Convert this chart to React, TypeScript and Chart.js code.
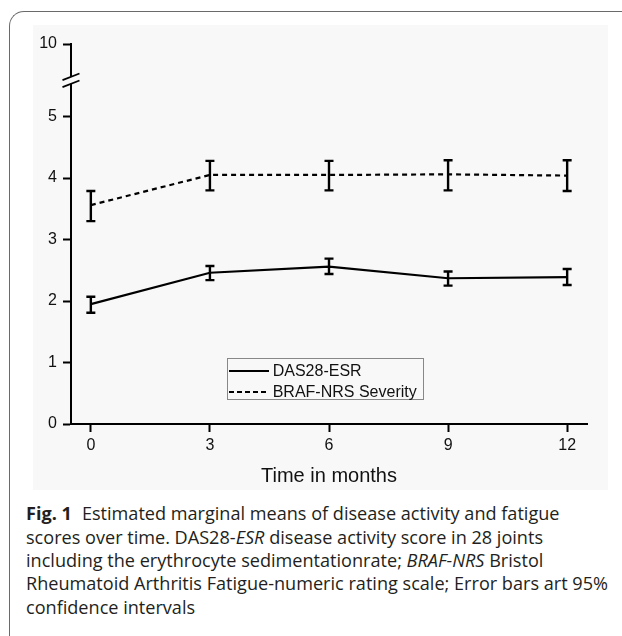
import React, { useEffect, useRef } from 'react';
import { Chart, registerables } from 'chart.js';

Chart.register(...registerables);

// ---- data ----
const MONTHS = [0, 3, 6, 9, 12];
const SERIES_NAMES = ['DAS28-ESR', 'BRAF-NRS Severity'];
const DAS28_MEAN = [1.95, 2.46, 2.56, 2.37, 2.39];
const DAS28_LOW = [1.81, 2.34, 2.44, 2.25, 2.26];
const DAS28_HIGH = [2.07, 2.57, 2.69, 2.48, 2.52];
const BRAF_MEAN = [3.56, 4.05, 4.05, 4.06, 4.04];
const BRAF_LOW = [3.3, 3.8, 3.8, 3.8, 3.79];
const BRAF_HIGH = [3.79, 4.28, 4.28, 4.29, 4.29];
const X_TICKS = [0, 3, 6, 9, 12];
const Y_TICKS = [0, 1, 2, 3, 4, 5, 10];
const X_TITLE = 'Time in months';

// broken y axis: above the break values are compressed
const Y_BREAK_AT = 5;
const Y_COMPRESS = 0.236;
const disp = (v: number) => (v <= Y_BREAK_AT ? v : Y_BREAK_AT + (v - Y_BREAK_AT) * Y_COMPRESS);

const PLOT_BG = '#f8f8f8';
const FONT = "'Liberation Sans', Arial, sans-serif";

const errorBarPlugin = {
  id: 'errorBars',
  afterDatasetsDraw(chart: any) {
    const { ctx, scales } = chart;
    const x = scales.x;
    const y = scales.y;
    ctx.save();
    ctx.strokeStyle = '#000';
    ctx.lineWidth = 2.4;
    ctx.setLineDash([]);
    const sets = [
      [DAS28_LOW, DAS28_HIGH],
      [BRAF_LOW, BRAF_HIGH],
    ];
    sets.forEach(([lo, hi]) => {
      MONTHS.forEach((m, i) => {
        const px = x.getPixelForValue(m);
        const pl = y.getPixelForValue(disp(lo[i]));
        const ph = y.getPixelForValue(disp(hi[i]));
        ctx.beginPath();
        ctx.moveTo(px, pl);
        ctx.lineTo(px, ph);
        ctx.moveTo(px - 4.5, pl);
        ctx.lineTo(px + 4.5, pl);
        ctx.moveTo(px - 4.5, ph);
        ctx.lineTo(px + 4.5, ph);
        ctx.stroke();
      });
    });
    ctx.restore();
  },
};

const axisBreakPlugin = {
  id: 'axisBreak',
  afterDraw(chart: any) {
    const { ctx, chartArea, scales } = chart;
    const y = scales.y;
    const x0 = chartArea.left;
    const yb = y.getPixelForValue((Y_BREAK_AT + disp(Y_TICKS[Y_TICKS.length - 1])) / 2);
    ctx.save();
    ctx.fillStyle = PLOT_BG;
    ctx.fillRect(x0 - 2, yb - 3.5, 4, 7);
    ctx.strokeStyle = '#000';
    ctx.lineWidth = 1.8;
    [-3.5, 3.5].forEach((dy) => {
      ctx.beginPath();
      ctx.moveTo(x0 - 8.5, yb + dy + 3.3);
      ctx.lineTo(x0 + 8.5, yb + dy - 3.3);
      ctx.stroke();
    });
    ctx.restore();
  },
};

function ChartCanvas() {
  const ref = useRef<HTMLCanvasElement | null>(null);
  useEffect(() => {
    if (!ref.current) return;
    const chart = new Chart(ref.current, {
      type: 'line',
      data: {
        datasets: [
          {
            label: SERIES_NAMES[0],
            data: MONTHS.map((m, i) => ({ x: m, y: disp(DAS28_MEAN[i]) })),
            borderColor: '#000',
            borderWidth: 2.2,
            pointRadius: 0,
            tension: 0,
            fill: false,
          },
          {
            label: SERIES_NAMES[1],
            data: MONTHS.map((m, i) => ({ x: m, y: disp(BRAF_MEAN[i]) })),
            borderColor: '#000',
            borderWidth: 2.2,
            borderDash: [5, 4],
            pointRadius: 0,
            tension: 0,
            fill: false,
          },
        ],
      },
      options: {
        responsive: false,
        animation: false,
        events: [],
        layout: { padding: { left: 0, right: 15, top: 24, bottom: 0 } },
        plugins: {
          legend: { display: false },
          tooltip: { enabled: false },
          title: { display: false },
        },
        scales: {
          x: {
            type: 'linear',
            min: -0.5,
            max: 12.5,
            afterBuildTicks: (s: any) => {
              s.ticks = X_TICKS.map((v) => ({ value: v }));
            },
            afterFit: (s: any) => {
              s.height = 76;
            },
            ticks: {
              callback: (_v: any, i: number) => String(X_TICKS[i]),
              color: '#111',
              font: { family: FONT, size: 16 },
              padding: 4,
              maxRotation: 0,
            },
            grid: {
              display: true,
              drawOnChartArea: false,
              drawTicks: true,
              tickLength: 8,
              tickWidth: 2,
              tickColor: '#000',
            },
            border: { display: true, color: '#000', width: 2 },
            title: {
              display: true,
              text: X_TITLE,
              color: '#111',
              font: { family: FONT, size: 20 },
              padding: { top: 0, bottom: 12 },
            },
          },
          y: {
            type: 'linear',
            min: 0,
            max: disp(Y_TICKS[Y_TICKS.length - 1]),
            afterBuildTicks: (s: any) => {
              s.ticks = Y_TICKS.map((v) => ({ value: disp(v) }));
            },
            afterFit: (s: any) => {
              s.width = 59;
            },
            ticks: {
              callback: (_v: any, i: number) => String(Y_TICKS[i]),
              color: '#111',
              font: { family: FONT, size: 16 },
              padding: 6,
            },
            grid: {
              display: true,
              drawOnChartArea: false,
              drawTicks: true,
              tickLength: 8,
              tickWidth: 2,
              tickColor: '#000',
            },
            border: { display: true, color: '#000', width: 2 },
          },
        },
      },
      plugins: [errorBarPlugin, axisBreakPlugin],
    });
    return () => chart.destroy();
  }, []);
  return (
    <canvas
      ref={ref}
      width={590}
      height={480}
      style={{ position: 'absolute', left: 12, top: 20, width: 590, height: 480 }}
    />
  );
}

const CAPTION_STYLE: React.CSSProperties = {
  position: 'absolute',
  left: 26,
  whiteSpace: 'nowrap',
  fontFamily: "'Open Sans', 'Noto Sans', sans-serif",
  fontSize: 18.1,
  lineHeight: '24px',
  color: '#231f20',
};

export default function App() {
  const rowCenters = [513, 536.5, 560, 583, 606.5];
  const lines: React.ReactNode[] = [
    <>
      <b style={{ marginRight: 10 }}>Fig. 1</b>Estimated marginal means of disease activity and fatigue
    </>,
    <>
      scores over time. DAS28-<i>ESR</i> disease activity score in 28 joints
    </>,
    <>
      including the erythrocyte sedimentationrate; <i>BRAF-NRS</i> Bristol
    </>,
    <>Rheumatoid Arthritis Fatigue-numeric rating scale; Error bars art 95%</>,
    <>confidence intervals</>,
  ];
  return (
    <div
      style={{
        position: 'fixed',
        left: 0,
        top: 0,
        width: 622,
        height: 636,
        overflow: 'hidden',
        background: '#fff',
      }}
    >
      <div
        style={{
          position: 'absolute',
          left: 9,
          top: 10.5,
          width: 640,
          height: 660,
          borderTop: '1.5px solid #6a6a6a',
          borderLeft: '1.5px solid #6a6a6a',
          borderTopLeftRadius: 15,
          boxSizing: 'border-box',
        }}
      />
      <div style={{ position: 'absolute', left: 33, top: 25, width: 575, height: 465, background: PLOT_BG }} />
      <ChartCanvas />
      <div
        style={{
          position: 'absolute',
          left: 227,
          top: 358,
          width: 197,
          height: 42,
          border: '1px solid #888',
          boxSizing: 'border-box',
          fontFamily: FONT,
          fontSize: 16,
          color: '#111',
        }}
      >
        {SERIES_NAMES.map((name, i) => (
          <div
            key={name}
            style={{ position: 'absolute', left: 0, top: (i === 0 ? 12 : 32.7) - 10, height: 20, width: 195 }}
          >
            <svg width={41} height={20} style={{ position: 'absolute', left: 0, top: 0 }}>
              <line
                x1={1}
                y1={10}
                x2={41}
                y2={10}
                stroke="#000"
                strokeWidth={2}
                strokeDasharray={i === 0 ? undefined : '5 3'}
              />
            </svg>
            <span style={{ position: 'absolute', left: 44.7, top: 0, lineHeight: '20px' }}>{name}</span>
          </div>
        ))}
      </div>
      {lines.map((ln, i) => (
        <div key={i} style={{ ...CAPTION_STYLE, top: rowCenters[i] - 12 }}>
          {ln}
        </div>
      ))}
    </div>
  );
}
